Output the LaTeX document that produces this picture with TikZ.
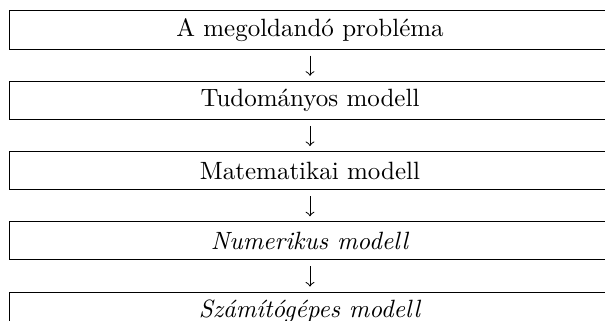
\documentclass[tikz,border=0pt]{standalone}
\usetikzlibrary{arrows,positioning}
\begin{document}
\begin{tikzpicture}[x=0.4pt,y=-0.4pt,
  modell/.style={draw,minimum width=240pt,minimum height=15.2pt,inner sep=0pt},
  node distance=12.5pt]
  \useasboundingbox (0,0) rectangle (605,320);
  \clip (0,0) rectangle (605,320);
  \node[modell] (problema) at (310,30) {A megoldandó probléma};
  \node[modell,below=of problema] (tudomanyos) {Tudományos modell};
  \node[modell,below=of tudomanyos] (matematikai) {Matematikai modell};
  \node[modell,below=of matematikai] (numerikus) {\textit{Numerikus modell}};
  \node[modell,below=of numerikus] (szamitogepes) {\textit{Számítógépes modell}};
  \draw[->,shorten <=2.4pt,shorten >=2pt] (problema) -- (tudomanyos);
  \draw[->,shorten <=2.4pt,shorten >=2pt] (tudomanyos) -- (matematikai);
  \draw[->,shorten <=2.4pt,shorten >=2pt] (matematikai) -- (numerikus);
  \draw[->,shorten <=2.4pt,shorten >=2pt] (numerikus) -- (szamitogepes);
\end{tikzpicture}
\end{document}
